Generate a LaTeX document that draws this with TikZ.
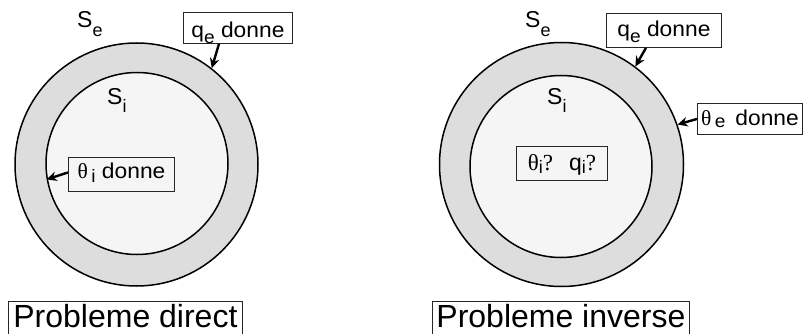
\documentclass[tikz,border=0pt]{standalone}
\usepackage{fontspec}
\setmainfont{Liberation Sans}
\newfontfamily\labfont[FakeStretch=1.06]{Liberation Sans}
\newfontfamily\serfont{Liberation Serif}
\usetikzlibrary{arrows.meta}
\definecolor{ringgray}{RGB}{221,221,221}
\definecolor{coregray}{RGB}{245,245,245}
\newcommand\lsub[2]{\raisebox{-#1}{\fontsize{18}{18}\selectfont #2}}
\newcommand\ssub[2]{\raisebox{-#1}{\fontsize{18}{18}\selectfont #2}}
\begin{document}
\begin{tikzpicture}[x=1pt,y=-1pt,
  ring/.style={circle,draw,line width=1.5pt,fill=ringgray,inner sep=0pt},
  core/.style={circle,draw,line width=1.5pt,fill=coregray,inner sep=0pt},
  labbox/.style={draw=black!85,line width=0.9pt,inner sep=0pt,anchor=north west,
    font=\labfont\fontsize{21.5}{22}\selectfont},
  bigbox/.style={draw=black!85,line width=0.9pt,inner sep=0pt,anchor=north west,
    font=\fontsize{32}{32}\selectfont,text height=26pt,text depth=14pt},
  slab/.style={anchor=base west,inner sep=0pt,font=\fontsize{23}{23}\selectfont},
  arr/.style={-{Stealth[length=10pt,width=9.5pt]},line width=2.4pt}
]
\useasboundingbox (0,0) rectangle (804,334);
% left figure
\node[ring,minimum size=243pt] (oL) at (136.5,164.5) {};
\node[core,minimum size=182pt] (iL) at (137,163.5) {};
\node[slab] (seL) at (77,28) {S\ssub{9pt}{e}};
\node[slab] (siL) at (107,105) {S\ssub{8pt}{i}};
\node[labbox,minimum width=109pt,text height=25pt,text depth=6pt] (qeL) at (183,12)
  {q\lsub{6pt}{e} donne};
\node[labbox,minimum width=106pt,text height=21pt,text depth=13pt] (tiL) at (68,157)
  {{\serfont θ}\,\lsub{4pt}{i} donne};
\node[bigbox,minimum width=234pt] (pd) at (8,301) {Probleme direct};
\draw[arr] ([xshift=-19pt]qeL.south) -- (oL.52);
\draw[arr] ([yshift=2pt]tiL.west) -- (iL.190);
% right figure
\node[ring,minimum size=244pt] (oR) at (561.5,164.5) {};
\node[core,minimum size=182pt] (iR) at (561,166.5) {};
\node[slab] (seR) at (525,28) {S\ssub{9pt}{e}};
\node[slab] (siR) at (547,105) {S\ssub{8pt}{i}};
\node[labbox,minimum width=115pt,text height=23pt,text depth=11pt] (qeR) at (606,13)
  {q\lsub{6pt}{e} donne};
\node[labbox,minimum width=105pt,text height=22pt,text depth=9pt] (teR) at (697,103)
  {{\serfont θ}\,\lsub{2pt}{e}\, donne};
\node[labbox,minimum width=91pt,text height=24pt,text depth=10pt,
  font=\fontsize{23}{23}\selectfont] (qq) at (516,146)
  {{\serfont θ}\lsub{3pt}{i}{\serfont ?}\hspace{16pt}q\lsub{3pt}{i}{\serfont ?}};
\node[bigbox,minimum width=257pt] (pi) at (432,301) {Probleme inverse};
\draw[arr] ([xshift=-18pt]qeR.south) -- (oR.53);
\draw[arr] (teR.west) -- (oR.19);
\end{tikzpicture}
\end{document}
